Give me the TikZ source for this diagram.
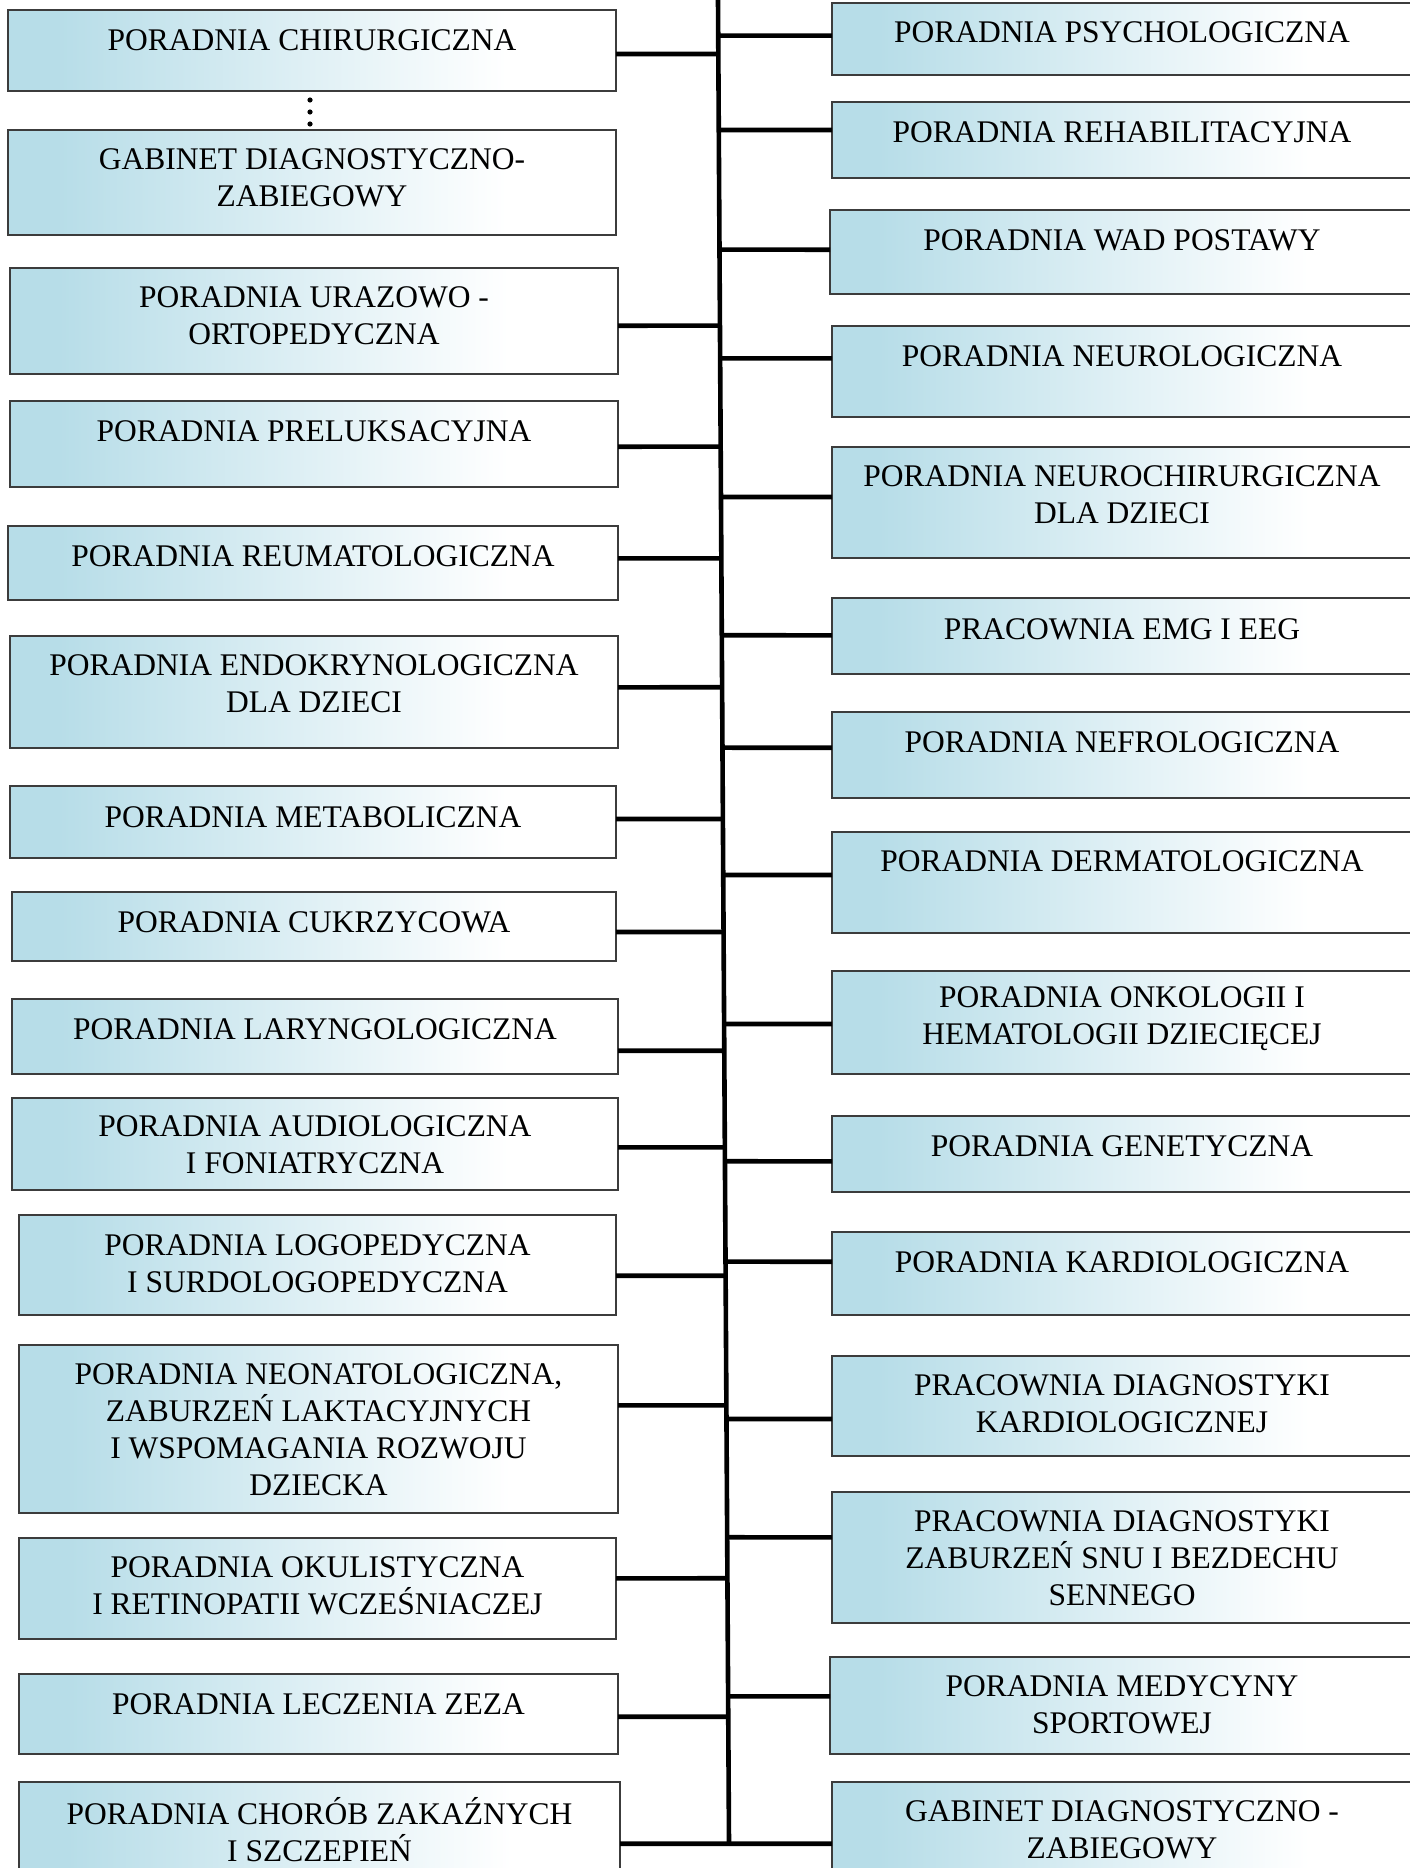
\documentclass[tikz,border=0pt]{standalone}
\usepackage{fontspec}
\setmainfont{Liberation Serif}
\usetikzlibrary{calc}
\definecolor{bblue}{RGB}{183,221,232}
\definecolor{bordercol}{RGB}{60,60,60}
\pgfdeclarehorizontalshading{boxfade}{100bp}{color(0bp)=(bblue); color(29bp)=(bblue); color(66bp)=(white); color(100bp)=(white)}
\tikzset{
  box/.style={rectangle, draw=bordercol, line width=1.5pt, shading=boxfade, inner sep=0pt, outer sep=0pt},
  lbl/.style={align=center, inner sep=0pt, font=\fontsize{31.5}{37}\selectfont, text=black},
  conn/.style={line width=4.6pt, black},
}
\newcommand{\mkbox}[5]{\node[box, minimum width={(#4)-(#2)}, minimum height={(#5)-(#3)}] (#1) at ({((#2)+(#4))/2},{((#3)+(#5))/2}) {};}
\newcommand{\lconn}[2]{\draw[conn] (#1.east |- 0,#2) -- ($(st)!{#2/1844}!(sb)$);}
\newcommand{\rconn}[2]{\draw[conn] ($(st)!{#2/1844}!(sb)$) -- (#1.west |- 0,#2);}
\begin{document}
\begin{tikzpicture}[x=1pt, y=-1pt]
\useasboundingbox (0,0) rectangle (1409,1868);
% spine
\coordinate (st) at (718,0);
\coordinate (sb) at (729,1844);
% left boxes
\mkbox{L1}{8}{10}{616}{91}
\mkbox{L2}{8}{130}{616}{235}
\mkbox{L3}{10}{268}{618}{374}
\mkbox{L4}{10}{401}{618}{487}
\mkbox{L5}{8}{526}{618}{600}
\mkbox{L6}{10}{636}{618}{748}
\mkbox{L7}{10}{786}{616}{858}
\mkbox{L8}{12}{892}{616}{961}
\mkbox{L9}{12}{999}{618}{1074}
\mkbox{L10}{12}{1098}{618}{1190}
\mkbox{L11}{19}{1215}{616}{1315}
\mkbox{L12}{19}{1345}{618}{1513}
\mkbox{L13}{19}{1538}{616}{1639}
\mkbox{L14}{19}{1674}{618}{1754}
\mkbox{L15}{19}{1782}{620}{1890}
% right boxes
\mkbox{R1}{832}{3}{1414}{75}
\mkbox{R2}{832}{102}{1414}{178}
\mkbox{R3}{830}{210}{1414}{294}
\mkbox{R4}{832}{326}{1414}{417}
\mkbox{R5}{832}{447}{1414}{558}
\mkbox{R6}{832}{598}{1414}{674}
\mkbox{R7}{832}{712}{1414}{798}
\mkbox{R8}{832}{832}{1414}{933}
\mkbox{R9}{832}{971}{1414}{1074}
\mkbox{R10}{832}{1116}{1414}{1192}
\mkbox{R11}{832}{1232}{1414}{1315}
\mkbox{R12}{832}{1356}{1414}{1456}
\mkbox{R13}{832}{1492}{1414}{1623}
\mkbox{R14}{830}{1657}{1414}{1754}
\mkbox{R15}{832}{1782}{1414}{1890}
% texts
\node[lbl] (L1t) at (L1.center |- 0,40.5) {PORADNIA CHIRURGICZNA};
\node[lbl] (L2t) at (L2.center |- 0,178) {GABINET DIAGNOSTYCZNO-\\ZABIEGOWY};
\node[lbl] (L3t) at (L3.center |- 0,316) {PORADNIA URAZOWO -\\ORTOPEDYCZNA};
\node[lbl] (L4t) at (L4.center |- 0,431) {PORADNIA PRELUKSACYJNA};
\node[lbl] (L5t) at (L5.center |- 0,556) {PORADNIA REUMATOLOGICZNA};
\node[lbl] (L6t) at (L6.center |- 0,684) {PORADNIA ENDOKRYNOLOGICZNA\\DLA DZIECI};
\node[lbl] (L7t) at (L7.center |- 0,817) {PORADNIA METABOLICZNA};
\node[lbl] (L8t) at (L8.center |- 0,922) {PORADNIA CUKRZYCOWA};
\node[lbl] (L9t) at (L9.center |- 0,1029) {PORADNIA LARYNGOLOGICZNA};
\node[lbl] (L10t) at (L10.center |- 0,1145) {PORADNIA AUDIOLOGICZNA\\I FONIATRYCZNA};
\node[lbl] (L11t) at (L11.center |- 0,1264) {PORADNIA LOGOPEDYCZNA\\I SURDOLOGOPEDYCZNA};
\node[lbl] (L12t) at (L12.center |- 0,1430) {PORADNIA NEONATOLOGICZNA,\\ZABURZEŃ LAKTACYJNYCH\\I WSPOMAGANIA ROZWOJU\\DZIECKA};
\node[lbl] (L13t) at (L13.center |- 0,1586) {PORADNIA OKULISTYCZNA\\I RETINOPATII WCZEŚNIACZEJ};
\node[lbl] (L14t) at (L14.center |- 0,1704) {PORADNIA LECZENIA ZEZA};
\node[lbl] (L15t) at (L15.center |- 0,1830) {PORADNIA CHORÓB ZAKAŹNYCH\\I SZCZEPIEŃ};
\node[lbl] (R1t) at (1122,32) {PORADNIA PSYCHOLOGICZNA};
\node[lbl] (R2t) at (1122,132) {PORADNIA REHABILITACYJNA};
\node[lbl] (R3t) at (1122,240.6) {PORADNIA WAD POSTAWY};
\node[lbl] (R4t) at (1122,356) {PORADNIA NEUROLOGICZNA};
\node[lbl] (R5t) at (1122,495) {PORADNIA NEUROCHIRURGICZNA\\DLA DZIECI};
\node[lbl] (R6t) at (1122,629) {PRACOWNIA EMG I EEG};
\node[lbl] (R7t) at (1122,742) {PORADNIA NEFROLOGICZNA};
\node[lbl] (R8t) at (1122,861) {PORADNIA DERMATOLOGICZNA};
\node[lbl] (R9t) at (1122,1019) {PORADNIA ONKOLOGII I\\HEMATOLOGII DZIECIĘCEJ};
\node[lbl] (R10t) at (1122,1146) {PORADNIA GENETYCZNA};
\node[lbl] (R11t) at (1122,1262) {PORADNIA KARDIOLOGICZNA};
\node[lbl] (R12t) at (1122,1404) {PRACOWNIA DIAGNOSTYKI\\KARDIOLOGICZNEJ};
\node[lbl] (R13t) at (1122,1558) {PRACOWNIA DIAGNOSTYKI\\ZABURZEŃ SNU I BEZDECHU\\SENNEGO};
\node[lbl] (R14t) at (1122,1705) {PORADNIA MEDYCYNY\\SPORTOWEJ};
\node[lbl] (R15t) at (1122,1830) {GABINET DIAGNOSTYCZNO -\\ZABIEGOWY};
% dots between L1 and L2
\fill[black] (310,100) circle (2.6);
\fill[black] (310,112) circle (2.6);
\fill[black] (310,124) circle (2.6);
% spine
\draw[conn] (st) -- (sb);
% left connectors
\lconn{L1}{54}
\lconn{L3}{325.7}
\lconn{L4}{446.7}
\lconn{L5}{558.3}
\lconn{L6}{687.3}
\lconn{L7}{819}
\lconn{L8}{932}
\lconn{L9}{1050.7}
\lconn{L10}{1147.3}
\lconn{L11}{1275.7}
\lconn{L12}{1405.3}
\lconn{L13}{1578.3}
\lconn{L14}{1716.7}
\lconn{L15}{1843.7}
% right connectors
\rconn{R1}{35.7}
\rconn{R2}{130}
\rconn{R3}{249.7}
\rconn{R4}{358.3}
\rconn{R5}{497}
\rconn{R6}{635.3}
\rconn{R7}{747.7}
\rconn{R8}{875}
\rconn{R9}{1024}
\rconn{R10}{1161.3}
\rconn{R11}{1261.7}
\rconn{R12}{1419}
\rconn{R13}{1537.3}
\rconn{R14}{1696.3}
\rconn{R15}{1843.7}
\end{tikzpicture}
\end{document}
